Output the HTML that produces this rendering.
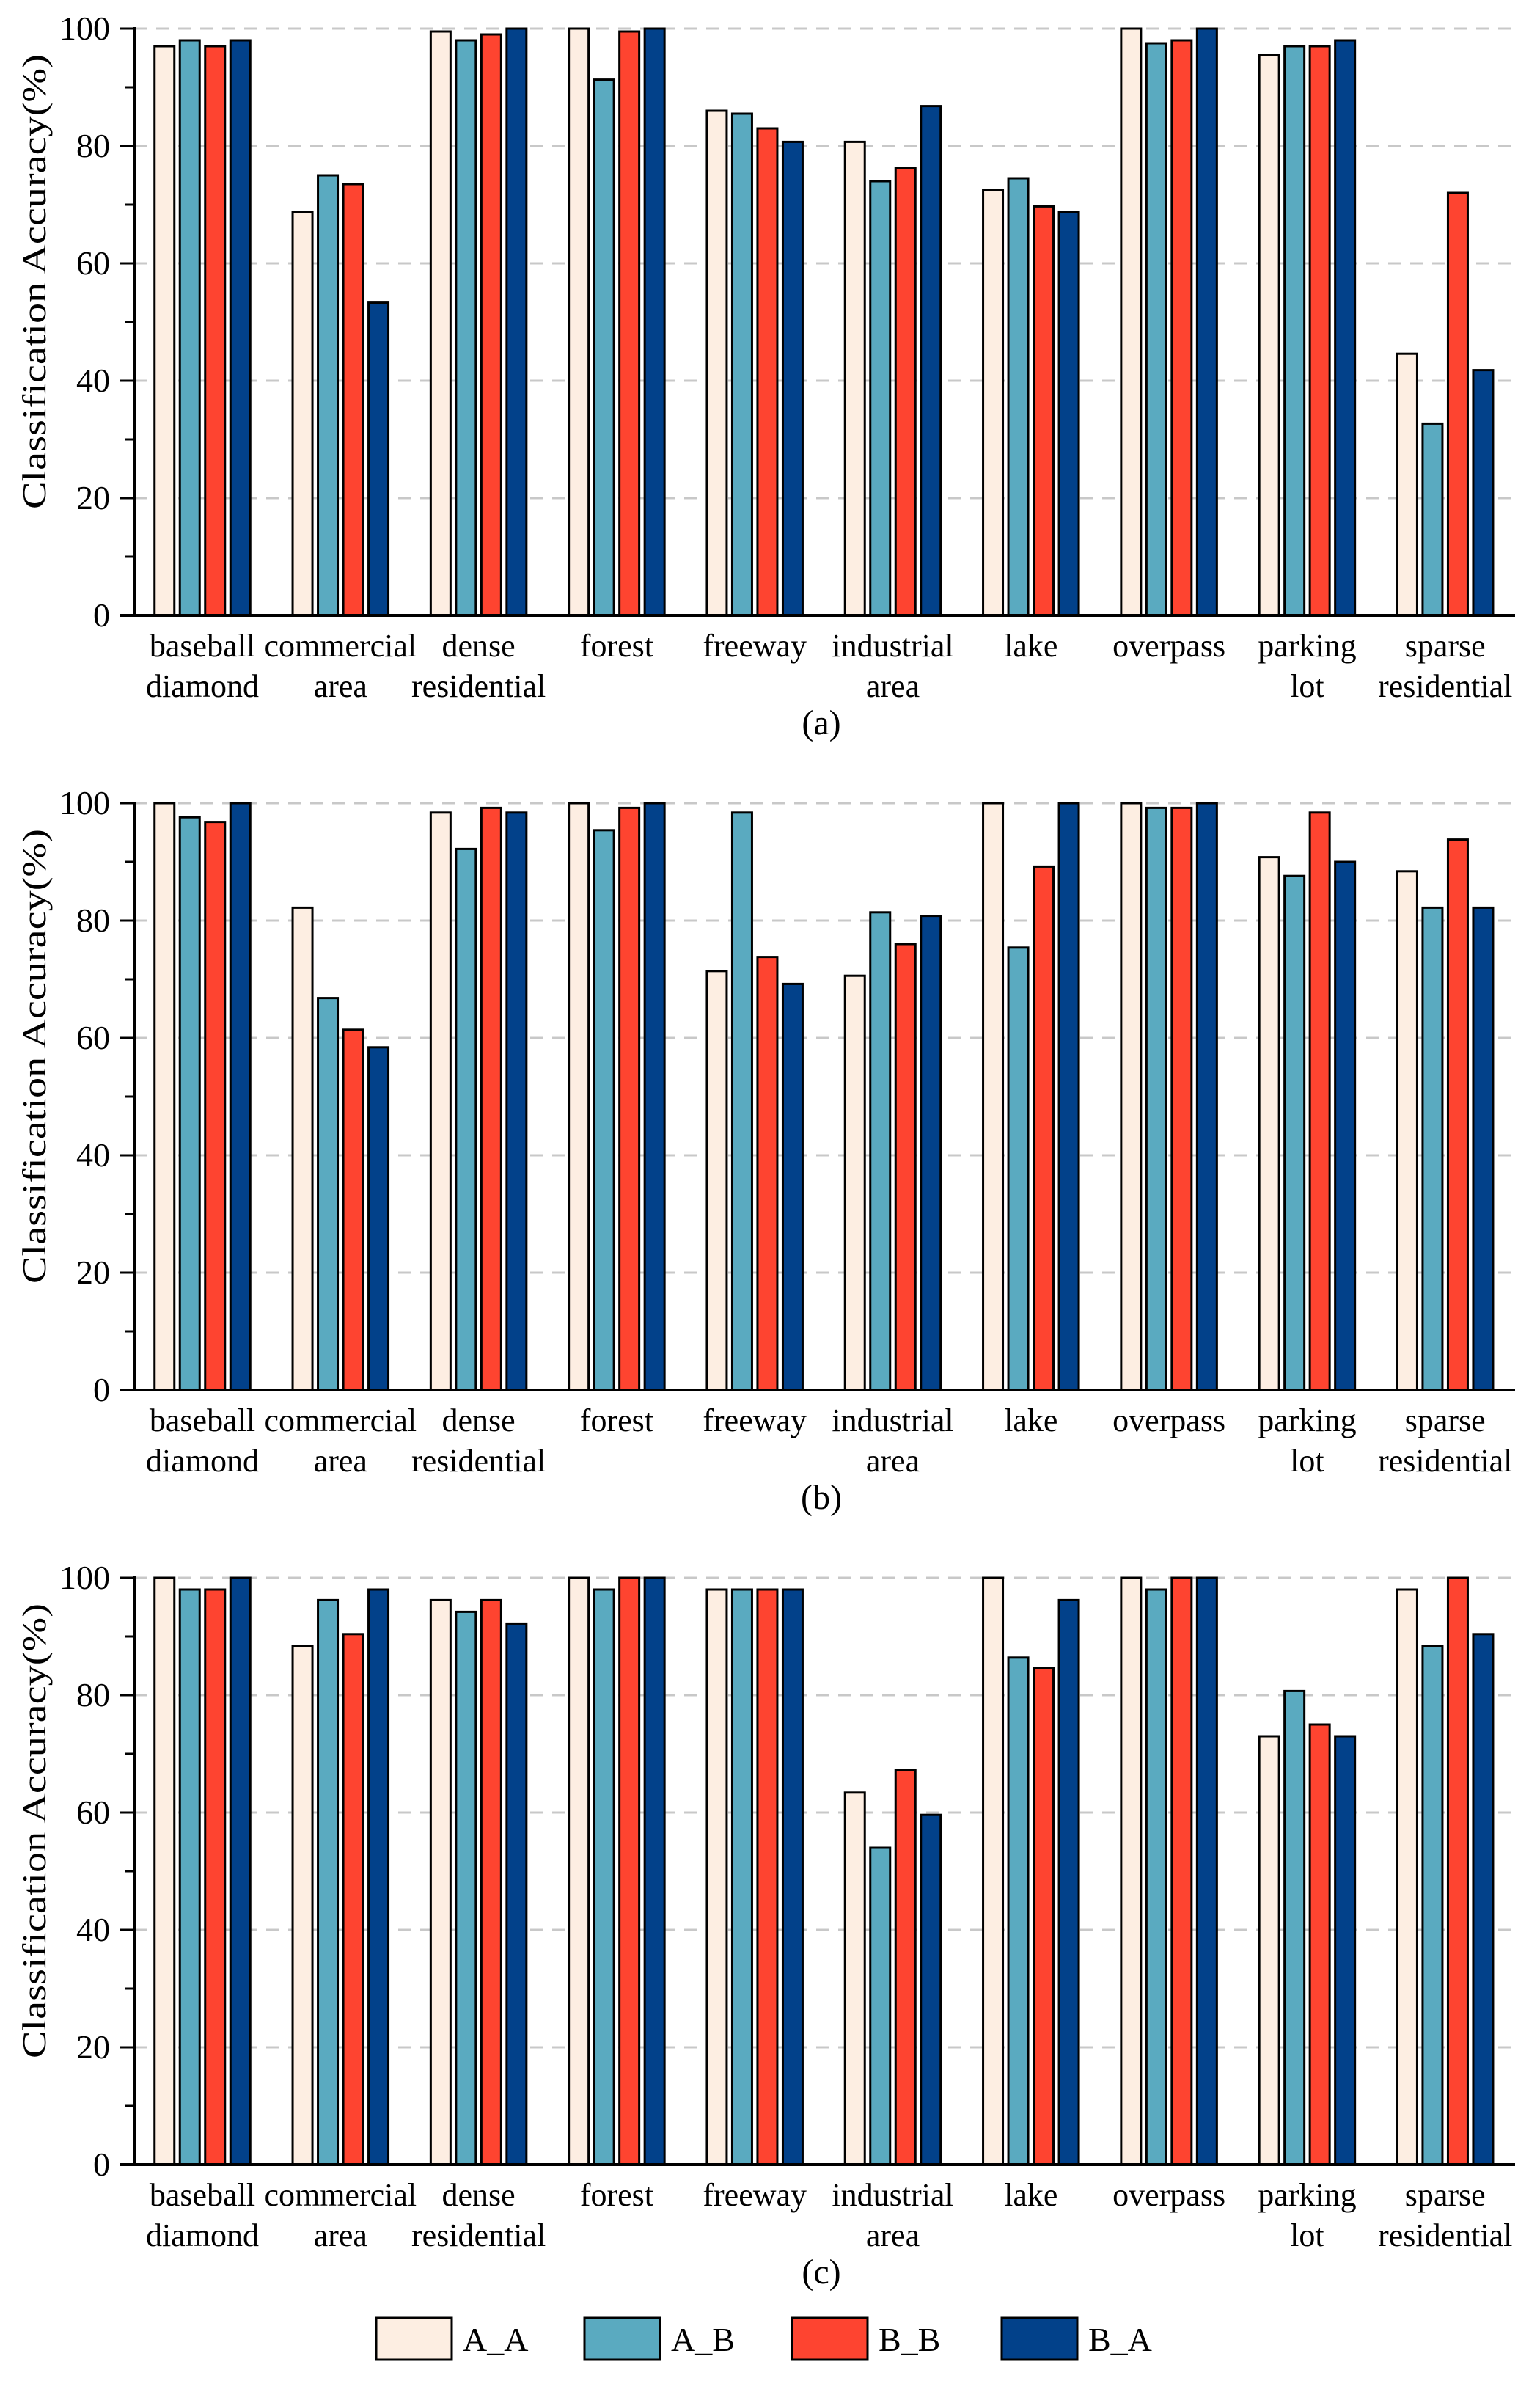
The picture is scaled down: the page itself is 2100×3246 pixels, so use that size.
<!DOCTYPE html>
<html><head><meta charset="utf-8">
<style>
html,body{margin:0;padding:0;background:#fff;}
svg{display:block;font-family:"Liberation Serif",serif;}
</style></head>
<body>
<svg id="chart" width="2100" height="3246" viewBox="0 0 2100 3246" xmlns="http://www.w3.org/2000/svg"></svg>
<script>
const categories = [["baseball","diamond"],["commercial","area"],["dense","residential"],["forest"],["freeway"],["industrial","area"],["lake"],["overpass"],["parking","lot"],["sparse","residential"]];
const seriesNames = ["A_A","A_B","B_B","B_A"];
const seriesColors = ["#fdeee2","#5aaac0","#fe4430","#02418a"];
const panelLabels = ["(a)","(b)","(c)"];
const yTicks = [0,20,40,60,80,100];
// panel (a)
const aAA = [97,68.7,99.5,100,86,80.7,72.5,100,95.5,44.6];
const aAB = [98,75,98,91.3,85.5,74,74.5,97.5,97,32.7];
const aBB = [97,73.5,99,99.5,83,76.3,69.7,98,97,72];
const aBA = [98,53.3,100,100,80.7,86.8,68.7,100,98,41.8];
// panel (b)
const bAA = [100,82.2,98.4,100,71.4,70.6,100,100,90.8,88.4];
const bAB = [97.6,66.8,92.2,95.4,98.4,81.4,75.4,99.2,87.6,82.2];
const bBB = [96.8,61.4,99.2,99.2,73.8,76,89.2,99.2,98.4,93.8];
const bBA = [100,58.4,98.4,100,69.2,80.8,100,100,90,82.2];
// panel (c)
const cAA = [100,88.4,96.2,100,98,63.4,100,100,73,98];
const cAB = [98,96.2,94.2,98,98,54,86.4,98,80.7,88.4];
const cBB = [98,90.4,96.2,100,98,67.3,84.6,100,75,100];
const cBA = [100,98,92.2,100,98,59.6,96.2,100,73,90.4];
const panels = [[aAA,aAB,aBB,aBA],[bAA,bAB,bBB,bBA],[cAA,cAB,cBB,cBA]];

const NS="http://www.w3.org/2000/svg";
const svg=document.getElementById('chart');
function mk(tag,attrs,parent){const e=document.createElementNS(NS,tag);for(const k in attrs)e.setAttribute(k,attrs[k]);(parent||svg).appendChild(e);return e;}

const x0=183, x1=2066, groupW=188.3, firstCenter=276, barStep=34.5, barW=27;
const panelBottoms=[839,1895,2951];
const plotH=800;
panels.forEach((series,pi)=>{
  const yb=panelBottoms[pi];
  const y=v=>yb-v/100*plotH;
  const g=mk('g',{});
  
  
  yTicks.slice(1).forEach(t=>{
    const l=mk('line',{x1:x0,x2:x1,y1:y(t),y2:y(t),stroke:'#c8c8c8','stroke-width':3,'stroke-dasharray':'18,12'},g);
    
    
  });
  categories.forEach((c,ci)=>{
    const cx=firstCenter+ci*groupW;
    series.forEach((vals,si)=>{
      const bx=cx-1.5*barStep+si*barStep-barW/2;
      const r=mk('rect',{x:bx,y:y(vals[ci]),width:barW,height:yb-y(vals[ci]),fill:seriesColors[si],stroke:'#000','stroke-width':3},g);
      
      
    });
    c.forEach((w,li)=>{
      const t=mk('text',{x:cx,y:yb+56+li*55,'text-anchor':'middle','font-size':44,fill:'#000'},g);
      t.textContent=w;
      
      
    });
  });
  const ya=mk('line',{x1:x0,x2:x0,y1:y(100)-2,y2:yb,stroke:'#000','stroke-width':4},g);
  
  
  const xa=mk('line',{x1:163,x2:x1,y1:yb,y2:yb,stroke:'#000','stroke-width':4},g);
  
  
  for(let v=0;v<=100;v+=10){
    const major=v%20===0;
    const tk=mk('line',{x1:major?163:171,x2:x0,y1:y(v),y2:y(v),stroke:'#000','stroke-width':3},g);
    
    
  }
  yTicks.forEach(t=>{
    const tl=mk('text',{x:150,y:y(t)+15,'text-anchor':'end','font-size':46,fill:'#000'},g);
    tl.textContent=t;
    
    
  });
  const yt=mk('text',{x:0,y:0,'text-anchor':'middle','font-size':46,fill:'#000',textLength:620,lengthAdjust:'spacingAndGlyphs',transform:`translate(62,${yb-455}) rotate(-90)`},g);
  yt.textContent='Classification Accuracy(%)';
  
  
  const pl=mk('text',{x:1120,y:yb+162,'text-anchor':'middle','font-size':48,fill:'#000'},g);
  pl.textContent=panelLabels[pi];
  
  
});
const legX=[513,797,1080,1366];
seriesNames.forEach((n,si)=>{
  const g=mk('g',{});
  
  
  mk('rect',{x:legX[si],y:3160,width:103,height:57,fill:seriesColors[si],stroke:'#000','stroke-width':3},g);
  const t=mk('text',{x:legX[si]+118,y:3205,'font-size':46,fill:'#000'},g);
  t.textContent=n;
});
</script>
</body></html>
